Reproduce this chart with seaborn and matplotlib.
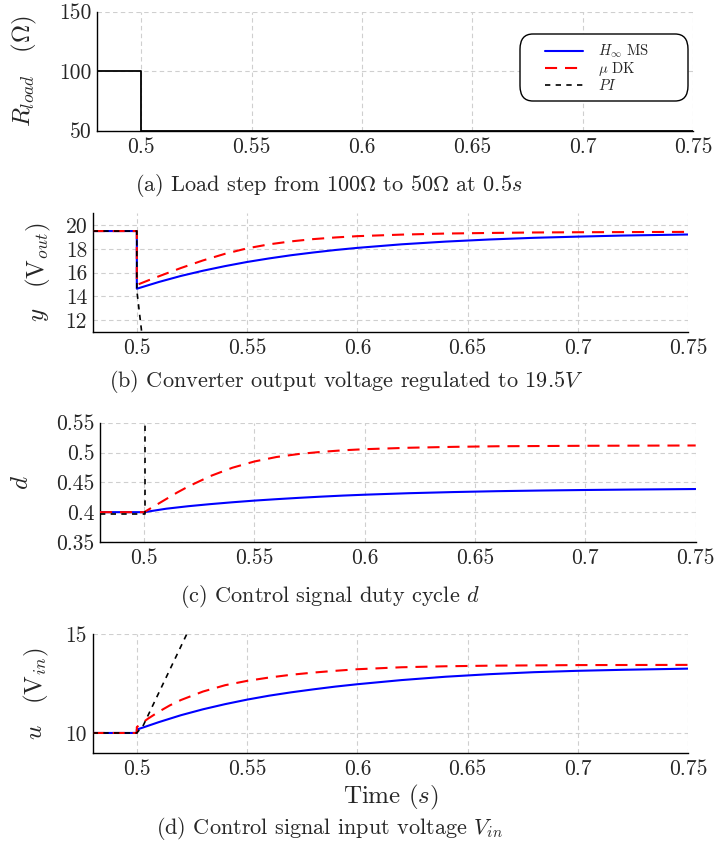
import matplotlib
matplotlib.use("Agg")
import matplotlib.pyplot as plt
from matplotlib.lines import Line2D
from matplotlib.patches import FancyBboxPatch
import seaborn as sns

sns.set_style("white")
plt.rcParams.update({
    "font.family": "serif",
    "font.serif": ["cmr10"],
    "mathtext.fontset": "cm",
    "axes.formatter.use_mathtext": True,
    "axes.unicode_minus": False,
})

# ---------------- data ----------------
# (a) load resistance step
t_load = [0.48, 0.5, 0.5, 0.75]
r_load = [100, 100, 50, 50]

# (b) output voltage
t_y_hinf = [0.48, 0.5, 0.5, 0.51, 0.52, 0.53, 0.54, 0.55, 0.56, 0.57, 0.58, 0.59,
            0.60, 0.62, 0.64, 0.66, 0.68, 0.70, 0.72, 0.75]
y_hinf = [19.5, 19.5, 14.63, 15.20, 15.71, 16.15, 16.54, 16.89, 17.19, 17.46, 17.69,
          17.90, 18.08, 18.38, 18.61, 18.79, 18.93, 19.03, 19.12, 19.21]
t_y_mu = [0.48, 0.5, 0.5, 0.505, 0.51, 0.52, 0.53, 0.54, 0.55, 0.56, 0.57, 0.58,
          0.59, 0.60, 0.62, 0.64, 0.66, 0.68, 0.70, 0.75]
y_mu = [19.5, 19.5, 14.95, 15.32, 15.68, 16.38, 17.02, 17.58, 18.04, 18.38, 18.63,
        18.82, 18.96, 19.07, 19.20, 19.29, 19.34, 19.38, 19.40, 19.43]
t_y_pi = [0.48, 0.5, 0.5, 0.5025]
y_pi = [19.5, 19.5, 14.5, 10.5]

# (c) duty cycle
t_d_hinf = [0.48, 0.5, 0.51, 0.52, 0.53, 0.54, 0.55, 0.56, 0.57, 0.58, 0.59, 0.60,
            0.62, 0.64, 0.66, 0.68, 0.70, 0.72, 0.75]
d_hinf = [0.400, 0.400, 0.4058, 0.4100, 0.4135, 0.4166, 0.4194, 0.4218, 0.4240,
          0.4260, 0.4278, 0.4293, 0.4318, 0.4337, 0.4352, 0.4363, 0.4372, 0.4379, 0.4388]
t_d_mu = [0.48, 0.5, 0.505, 0.51, 0.515, 0.52, 0.53, 0.54, 0.55, 0.56, 0.57, 0.58,
          0.59, 0.60, 0.62, 0.64, 0.66, 0.70, 0.75]
d_mu = [0.400, 0.400, 0.411, 0.422, 0.433, 0.443, 0.4605, 0.4745, 0.485, 0.4925,
        0.4975, 0.501, 0.5037, 0.5056, 0.508, 0.5095, 0.5105, 0.5113, 0.5118]
t_d_pi = [0.48, 0.5005, 0.5005]
d_pi = [0.397, 0.397, 0.60]

# (d) input voltage
t_u_hinf = [0.48, 0.5, 0.5, 0.51, 0.52, 0.53, 0.54, 0.55, 0.56, 0.57, 0.58, 0.59,
            0.60, 0.62, 0.64, 0.66, 0.68, 0.70, 0.72, 0.75]
u_hinf = [10.0, 10.0, 10.17, 10.55, 10.90, 11.20, 11.46, 11.69, 11.89, 12.06, 12.21,
          12.35, 12.47, 12.68, 12.85, 12.98, 13.08, 13.15, 13.20, 13.26]
t_u_mu = [0.48, 0.5, 0.5, 0.505, 0.51, 0.515, 0.52, 0.53, 0.54, 0.55, 0.56, 0.57,
          0.58, 0.59, 0.60, 0.62, 0.64, 0.66, 0.70, 0.75]
u_mu = [10.0, 10.0, 10.30, 10.72, 11.08, 11.40, 11.67, 12.10, 12.42, 12.64, 12.81,
        12.95, 13.06, 13.15, 13.23, 13.33, 13.38, 13.41, 13.44, 13.45]
t_u_pi = [0.48, 0.5, 0.503, 0.5226, 0.53]
u_pi = [10.0, 10.0, 10.4, 15.0, 16.7]

# axis ticks and labels
x_ticks = [0.5, 0.55, 0.6, 0.65, 0.7, 0.75]
x_tick_labels = ["0.5", "0.55", "0.6", "0.65", "0.7", "0.75"]
r_ticks = [50, 100, 150]
y_ticks = [12, 14, 16, 18, 20]
d_ticks = [0.35, 0.4, 0.45, 0.5, 0.55]
d_tick_labels = ["0.35", "0.4", "0.45", "0.5", "0.55"]
u_ticks = [10, 15]

legend_labels = [r"$H_\infty$ MS", r"$\mu$ DK", r"$PI$"]
captions = [
    r"(a) Load step from 100$\Omega$ to 50$\Omega$ at 0.5$s$",
    r"(b) Converter output voltage regulated to 19.5$V$",
    r"(c) Control signal duty cycle $d$",
    r"(d) Control signal input voltage $V_{in}$",
]

# ---------------- figure ----------------
W, H = 714, 846
fig = plt.figure(figsize=(W / 100, H / 100), dpi=100)


def make_axes(left, top, right, bottom):
    return fig.add_axes([left / W, 1 - bottom / H, (right - left) / W, (bottom - top) / H])


BLUE = "#0000ff"
RED = "#ff0000"
BLACK = "#000000"
LW = 1.5
RED_DASH = (5.8, 3.8)
PI_DASH = (3.2, 3.2)
TICK_FS = 15.5
LABEL_FS = 18
CAPTION_FS = 16


def draw(ax, t, v, color, lw, dashes=None):
    sns.lineplot(x=t, y=v, ax=ax, color=color, linewidth=lw,
                 estimator=None, sort=False)
    line = ax.lines[-1]
    if dashes is not None:
        line.set_dashes(dashes)
    line.set_zorder(3)


def style(ax, ylim, yticks, ytick_labels=None):
    ax.set_xlim(0.48, 0.75)
    ax.set_ylim(*ylim)
    ax.set_xticks(x_ticks)
    ax.set_xticklabels(x_tick_labels)
    ax.set_yticks(yticks)
    ax.set_yticklabels(ytick_labels if ytick_labels else [str(v) for v in yticks])
    ax.tick_params(axis="x", length=0, labelsize=TICK_FS, pad=5)
    ax.tick_params(axis="y", length=0, labelsize=TICK_FS, pad=4)
    ax.grid(True, color="#cfcfcf", linestyle=(0, (4, 3)), linewidth=0.8)
    ax.set_axisbelow(True)
    for s in ("top", "right"):
        ax.spines[s].set_visible(False)
    for s in ("left", "bottom"):
        ax.spines[s].set_color("black")
        ax.spines[s].set_linewidth(1.0)
    ax.set_xlabel("")


# (a)
ax_a = make_axes(97, 11.7, 693, 130.7)
draw(ax_a, t_load, r_load, BLACK, 1.3)
style(ax_a, (50, 150), r_ticks)
ax_a.set_ylabel(r"$R_{load}\quad(\Omega)$", fontsize=LABEL_FS)
ax_a.yaxis.set_label_coords(-0.097, 0.5)

box = FancyBboxPatch((520 / W, 1 - 101 / H), 168 / W, 67 / H,
                     boxstyle="round,pad=0,rounding_size=0.018",
                     transform=fig.transFigure, facecolor="white",
                     edgecolor="black", linewidth=1.0, zorder=5)
fig.patches.append(box)
handles = [
    Line2D([], [], color=BLUE, lw=LW),
    Line2D([], [], color=RED, lw=LW, dashes=RED_DASH),
    Line2D([], [], color=BLACK, lw=1.2, dashes=PI_DASH),
]
leg = fig.legend(handles, legend_labels, loc="upper left",
                 bbox_to_anchor=(545 / W, 1 - 43 / H), bbox_transform=fig.transFigure,
                 frameon=False, fontsize=10.5, handlelength=2.6, handletextpad=1.0,
                 labelspacing=0.0, borderpad=0, borderaxespad=0)
leg.set_zorder(6)

# (b)
ax_b = make_axes(92.7, 213.3, 688.3, 331.7)
draw(ax_b, t_y_hinf, y_hinf, BLUE, LW)
draw(ax_b, t_y_mu, y_mu, RED, LW, RED_DASH)
draw(ax_b, t_y_pi, y_pi, BLACK, 1.2, PI_DASH)
style(ax_b, (11, 21), y_ticks)
ax_b.set_ylabel(r"$y\quad(\mathrm{V}_{out})$", fontsize=LABEL_FS)
ax_b.yaxis.set_label_coords(-0.066, 0.5)

# (c)
ax_c = make_axes(100, 422.7, 695.7, 542)
draw(ax_c, t_d_hinf, d_hinf, BLUE, LW)
draw(ax_c, t_d_mu, d_mu, RED, LW, RED_DASH)
draw(ax_c, t_d_pi, d_pi, BLACK, 1.2, PI_DASH)
style(ax_c, (0.35, 0.55), d_ticks, d_tick_labels)
ax_c.set_ylabel(r"$d$", fontsize=LABEL_FS)
ax_c.yaxis.set_label_coords(-0.112, 0.5)

# (d)
ax_d = make_axes(92.7, 634.3, 688.3, 752.7)
draw(ax_d, t_u_hinf, u_hinf, BLUE, LW)
draw(ax_d, t_u_mu, u_mu, RED, LW, RED_DASH)
draw(ax_d, t_u_pi, u_pi, BLACK, 1.2, PI_DASH)
style(ax_d, (9, 15), u_ticks)
ax_d.set_ylabel(r"$u\quad(\mathrm{V}_{in})$", fontsize=LABEL_FS)
ax_d.yaxis.set_label_coords(-0.070, 0.5)
ax_d.set_xlabel(r"Time $(s)$", fontsize=LABEL_FS, labelpad=3)

# sub-figure captions
for x_px, y_px, text in zip([329, 346, 330, 329], [185, 381, 597, 828], captions):
    fig.text(x_px / W, 1 - y_px / H, text, ha="center", va="center", fontsize=CAPTION_FS)

fig.savefig("out.png", dpi=100)
